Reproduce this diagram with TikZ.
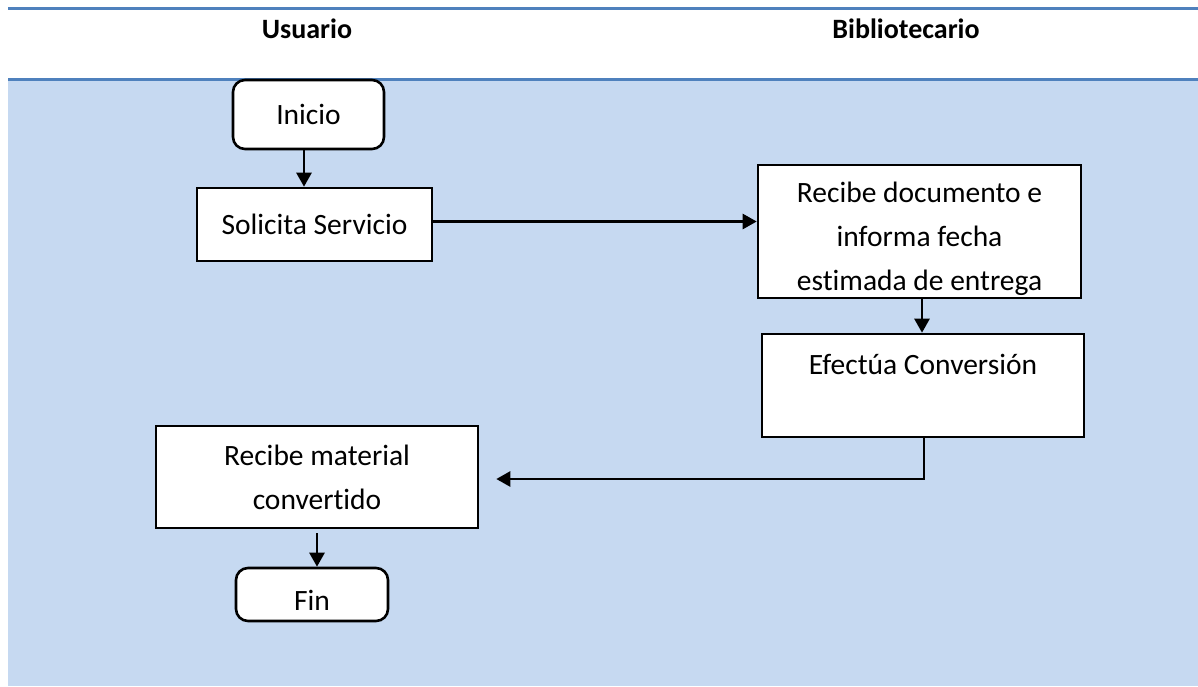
\documentclass[tikz,border=0pt]{standalone}
\usepackage{fontspec}
\setmainfont{Carlito}[Ligatures={NoCommon}]
\usetikzlibrary{arrows.meta}
\definecolor{lanebg}{HTML}{C6D9F1}
\definecolor{laneline}{HTML}{4F81BD}
\begin{document}
\begin{tikzpicture}[x=1pt,y=1pt,
  box/.style={draw=black, line width=2.6pt, fill=white, inner sep=0pt, align=center, font=\fontsize{29.5}{44}\selectfont},
  term/.style={box, rounded corners=12pt},
  conn/.style={line width=2.6pt, -{Triangle[width=15pt,length=14pt]}},
  hdr/.style={font=\fontsize{28}{34}\selectfont\bfseries, inner sep=0pt},
  lane/.style={laneline, line width=3pt}]
\useasboundingbox (0,0) rectangle (1198,-686);
\fill[lanebg] (8,-81) rectangle (1198,-686);
\draw[lane] (8,-8.5) -- (1198,-8.5);
\draw[lane] (8,-79.5) -- (1198,-79.5);

\node[hdr] (u) at (307,-29) {Usuario};
\node[hdr] (b) at (906,-29) {Bibliotecario};

\node[term, minimum width=151pt, minimum height=69pt] (ini) at (308.5,-114.5) {Inicio};
\node[box, minimum width=235pt, minimum height=73pt] (sol) at (314.5,-224.5) {Solicita Servicio};
\node[box, minimum width=323pt, text height=125pt, text depth=8pt] (rd) at (919.5,-231.5) {Recibe documento e\\informa fecha\\estimada de entrega};
\node[box, minimum width=322pt, text height=40.4pt, text depth=62.6pt] (ef) at (923,-385.5) {Efectúa Conversión};
\node[box, minimum width=322pt, minimum height=102pt] (rm) at (317,-477) {Recibe material\\convertido};
\node[term, minimum width=152pt, text height=42pt, text depth=11pt] (fin) at (312,-594.5) {Fin};

\draw[conn] ([xshift=-4.5pt]ini.south) -- ([xshift=-4.5pt]ini.south |- sol.north);
\draw[conn] ([yshift=3pt]sol.east) -- ([yshift=3pt]sol.east -| rd.west);
\draw[conn] ([xshift=2.5pt]rd.south) -- ([xshift=2.5pt]rd.south |- ef.north);
\draw[conn] ([xshift=1pt]ef.south) |- ([xshift=17pt,yshift=-2pt]rm.east);
\draw[conn, shorten <=4pt] (rm.south) -- (rm.south |- fin.north);
\end{tikzpicture}
\end{document}
